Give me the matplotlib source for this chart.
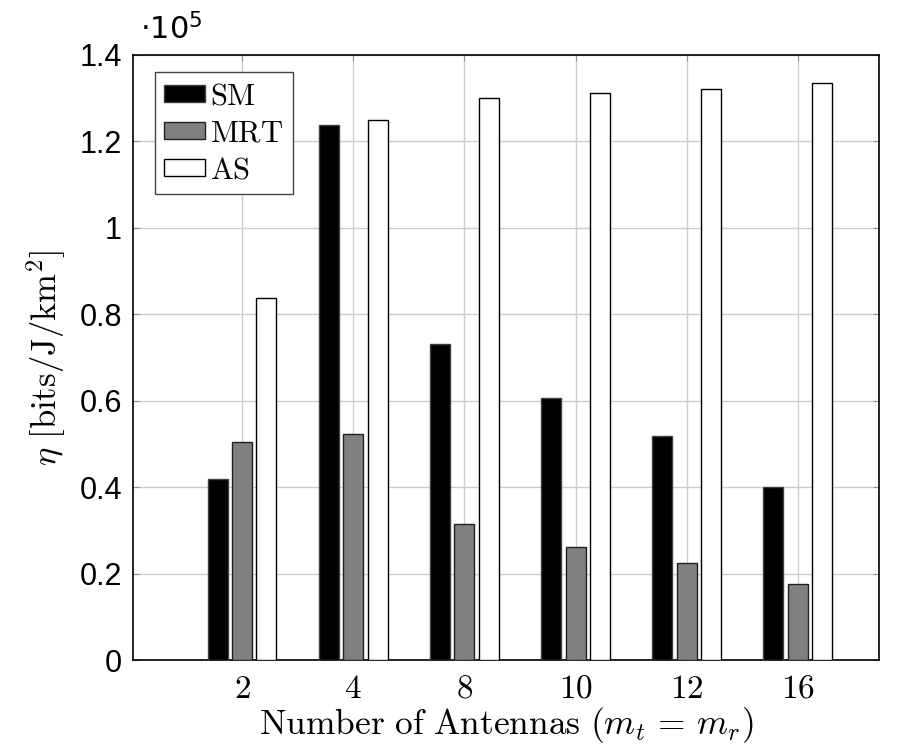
# energy efficiency of SM / MRT / AS vs number of antennas
import numpy as np
import matplotlib
matplotlib.use("Agg")
import matplotlib.pyplot as plt

plt.rcParams['mathtext.fontset'] = 'cm'

antennas = ["2", "4", "8", "10", "12", "16"]
sm = [0.419e5, 1.238e5, 0.732e5, 0.607e5, 0.519e5, 0.402e5]
mrt = [0.504e5, 0.524e5, 0.315e5, 0.263e5, 0.226e5, 0.176e5]
as_ = [0.839e5, 1.249e5, 1.300e5, 1.313e5, 1.322e5, 1.336e5]
yticks = [0, 0.2e5, 0.4e5, 0.6e5, 0.8e5, 1.0e5, 1.2e5, 1.4e5]
ytick_labels = ["0", "0.2", "0.4", "0.6", "0.8", "1", "1.2", "1.4"]

fig = plt.figure(figsize=(8.97, 7.49), dpi=100)
ax = fig.add_axes([0.1483, 0.1182, 0.8317, 0.8084])

x = np.arange(1, len(antennas) + 1)
w = 0.18
off = 0.22
ax.bar(x - off, sm, w, color='black', edgecolor='#404040', linewidth=1, label='SM', zorder=3)
ax.bar(x, mrt, w, color='#808080', edgecolor='#202020', linewidth=1, label='MRT', zorder=3)
ax.bar(x + off, as_, w, color='white', edgecolor='black', linewidth=1, label='AS', zorder=3)

ax.set_xlim(0.02, 6.73)
ax.set_ylim(0, 1.4e5)
ax.set_xticks(x)
ax.set_xticklabels(["$%s$" % a for a in antennas], fontsize=24)
ax.set_yticks(yticks)
ax.set_yticklabels(ytick_labels, fontsize=22, family='Liberation Sans')
ax.tick_params(direction='in', length=4, color='#909090', top=True, right=True, pad=8)
ax.grid(True, color='#cccccc', linewidth=1, zorder=0)
ax.set_axisbelow(True)
for s in ax.spines.values():
    s.set_linewidth(1.2)

ax.set_xlabel(r"$\mathrm{Number\ of\ Antennas\ }(m_t\,=\,m_r)$", fontsize=25.5, labelpad=0)
ax.set_ylabel(r"$\eta\ [\mathrm{bits/J/km}^2]$", fontsize=25, labelpad=8)
t10 = ax.text(0.01, 1.015, r"$\cdot 10^5$", transform=ax.transAxes, fontsize=22,
              ha='left', va='bottom')
t10.set_math_fontfamily('dejavusans')

leg = ax.legend(loc='upper left', bbox_to_anchor=(0.0295, 0.972), borderaxespad=0,
                prop={'size': 22}, handlelength=1.35, handleheight=0.48, handletextpad=0.15,
                borderpad=0.3, labelspacing=0.27, fancybox=False, framealpha=1,
                edgecolor='#444444')
leg.get_frame().set_linewidth(1)
for t in leg.get_texts():
    t.set_text("$\\mathrm{%s}\\,$" % t.get_text())

fig.savefig("out.png", dpi=100)
